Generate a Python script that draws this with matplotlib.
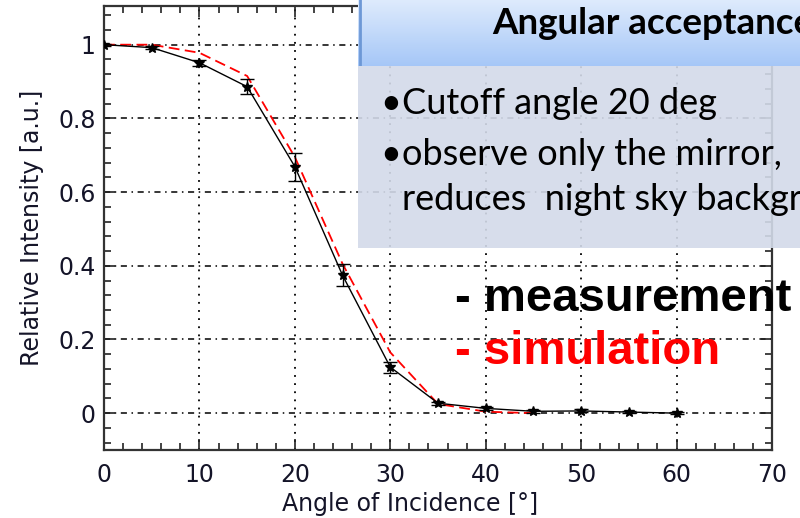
import numpy as np
import matplotlib
matplotlib.use('Agg')
import matplotlib.pyplot as plt
from matplotlib.patches import Rectangle
from matplotlib.ticker import MultipleLocator, FuncFormatter

# measured angular acceptance (black, with error bars)
meas_angle = [0, 5, 10, 15, 20, 25, 30, 35, 40, 45, 50, 55, 60]
meas_value = [1.0, 0.992, 0.951, 0.886, 0.669, 0.374, 0.125, 0.027, 0.013,
              0.005, 0.006, 0.003, 0.0]
meas_error = [0.003, 0.005, 0.008, 0.02, 0.038, 0.03, 0.015, 0.004, 0.004,
              0.004, 0.004, 0.003, 0.003]

# simulated curve (red dashed)
sim_angle = [0, 5, 10, 15, 20, 25, 30, 35, 40, 45]
sim_value = [1.0, 1.0, 0.978, 0.915, 0.695, 0.405, 0.165, 0.025, 0.004, 0.0]

W, H = 800, 518
fig = plt.figure(figsize=(W / 100, H / 100), dpi=100)
ax = fig.add_axes([104 / W, 1 - 450 / H, 668 / W, 444 / H])

ax.plot(sim_angle, sim_value, color='red', lw=1.3, dashes=(6, 3), zorder=3)
ax.errorbar(meas_angle, meas_value, yerr=meas_error, color='black', lw=1.0,
            marker='*', markersize=7, capsize=5, elinewidth=1.0, zorder=4)

ax.set_xlim(0, 70)
ax.set_ylim(-0.1, 1.105)
ax.xaxis.set_major_locator(MultipleLocator(10))
ax.xaxis.set_minor_locator(MultipleLocator(2))
ax.yaxis.set_major_locator(MultipleLocator(0.2))
ax.yaxis.set_minor_locator(MultipleLocator(0.04))
ax.yaxis.set_major_formatter(FuncFormatter(lambda v, p: '{:g}'.format(round(v, 2))))

ax.tick_params(which='both', direction='in', top=True, right=True,
               color='#222222', width=1.2)
ax.tick_params(which='major', length=8, labelsize=17, labelcolor='#141428')
ax.tick_params(which='minor', length=5)
ax.tick_params(axis='x', pad=9)
ax.tick_params(axis='y', pad=6)
for s in ax.spines.values():
    s.set_color('#333333')
    s.set_linewidth(1.6)

ax.grid(axis='y', which='major', color='black', lw=1.1,
        linestyle=(0, (4, 3, 1, 3)))
ax.grid(axis='x', which='major', color='black', lw=1.3,
        linestyle=(0, (1, 3.5)))

ax.set_xlabel('Angle of Incidence [°]', fontsize=17, color='#141428',
              labelpad=2)
ax.xaxis.set_label_coords(0.458, -0.095)
ax.set_ylabel('Relative Intensity [a.u.]', fontsize=17, color='#141428',
              labelpad=10)

# slide header and text panel over the plot
body = Rectangle((358 / W, 1 - 248 / H), 442 / W, 182 / H,
                 transform=fig.transFigure, facecolor='#d3dae9', alpha=0.9,
                 edgecolor='none', zorder=10)
fig.patches.append(body)

hdr = fig.add_axes([358 / W, 1 - 66 / H, 442 / W, 66 / H], zorder=11)
grad = np.linspace(0, 1, 64).reshape(-1, 1)
top_c = np.array([0.87, 0.92, 0.99])
bot_c = np.array([0.65, 0.78, 0.97])
img = top_c + (bot_c - top_c) * grad[..., None]
hdr.imshow(img, aspect='auto', extent=[0, 1, 0, 1])
hdr.axvline(0.004, color='#6d98d6', lw=2)
hdr.set_axis_off()
hdr.text(0.303, 0.64, 'Angular acceptance', fontsize=26.5, fontweight='bold',
         family=['Lato', 'DejaVu Sans'], va='center', ha='left',
         transform=hdr.transAxes, clip_on=True)

txt = dict(fontsize=26, family=['Lato', 'DejaVu Sans'], color='black',
           va='center', zorder=12)
fig.text(380 / W, 1 - 104 / H, '•', **txt)
fig.text(402 / W, 1 - 104 / H, 'Cutoff angle 20 deg', **txt)
fig.text(380 / W, 1 - 154 / H, '•', **txt)
fig.text(402 / W, 1 - 154 / H, 'observe only the mirror,', **txt)
fig.text(402 / W, 1 - 200 / H, 'reduces  night sky backgr', **txt)

lbl = dict(fontsize=34, fontweight='bold', family=['Liberation Sans'],
           va='center', zorder=12)
fig.text(455 / W, 1 - 299 / H, '- measurement', color='black', **lbl)
fig.text(455 / W, 1 - 352 / H, '- simulation', color='#ff0000', **lbl)

fig.savefig('out.png', dpi=100)
